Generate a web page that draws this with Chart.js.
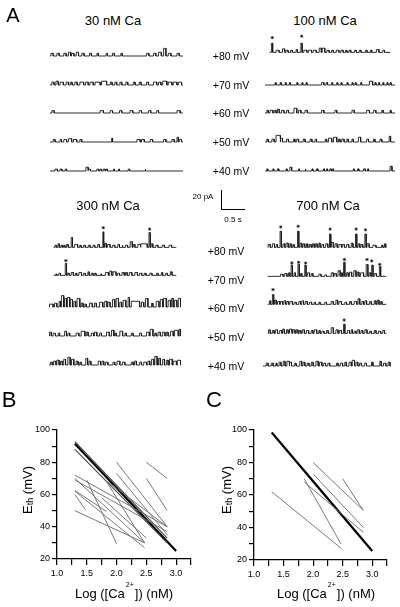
<!DOCTYPE html>
<html><head><meta charset="utf-8">
<script src="https://cdn.jsdelivr.net/npm/chart.js@4"></script>
<style>
html,body{margin:0;padding:0;background:#fff;}
#fig{position:relative;width:400px;height:607px;overflow:hidden;font-family:"Liberation Sans",Arial,sans-serif;color:#000;}
canvas{position:absolute;}
.t{position:absolute;white-space:nowrap;line-height:1;transform:translate(-50%,-50%);}
</style></head>
<body><div id="fig"></div>
<script>
// ---------- DATA ----------
// Panel A: single-channel openings per trace, [start s, end s, amplitude pA] (amplitude defaults to trace level)
const ca30_80=[[0.02,0.07],[0.15,0.20],[0.30,0.35],[0.40,0.45,4],[0.47,0.52],[0.57,0.62,4],[0.69,0.74],[0.86,0.90],[1.02,1.05],[1.22,1.25],[1.36,1.40],[1.54,1.57],[2.10,2.15],[2.25,2.30],[2.36,2.42,4],[2.47,2.52,8],[2.57,2.63],[2.76,2.81]];
const ca30_70=[[0.04,0.09],[0.13,0.18,4],[0.22,0.29],[0.35,0.40],[0.44,0.48],[0.54,0.59],[0.65,0.73],[0.77,0.83],[0.87,0.94],[0.98,1.09],[1.12,1.23,4],[1.31,1.35],[1.41,1.45],[1.52,1.56],[1.65,1.69],[1.81,1.85],[1.94,1.98],[2.10,2.14],[2.25,2.32],[2.36,2.41],[2.45,2.54,4],[2.57,2.65],[2.68,2.76],[2.79,2.86]];
const ca30_60=[[0.04,0.09],[1.09,1.16],[1.31,1.36],[1.51,1.56],[1.74,1.80],[1.94,1.99],[2.14,2.19],[2.32,2.36],[2.76,2.83]];
const ca30_50=[[0.07,0.11],[0.22,0.25],[0.30,0.36],[0.40,0.47,3.5],[0.51,0.58],[0.65,0.69],[1.34,1.36,4],[1.89,1.96],[1.99,2.05],[2.18,2.23],[2.47,2.52],[2.65,2.70],[2.76,2.79,5],[2.81,2.86]];
const ca30_40=[[0.11,0.16],[0.22,0.26],[0.33,0.36],[0.78,0.83,4],[0.83,0.88],[1.02,1.06],[1.09,1.12],[1.16,1.20],[1.22,1.25],[1.38,1.40],[1.49,1.51],[1.70,1.73],[2.07,2.08]];
const ca100_80=[[0.04,0.07,13],[0.15,0.22],[0.30,0.35,5],[0.38,0.43],[0.49,0.53],[0.62,0.65,4],[0.73,0.76,13],[0.80,0.87],[0.91,0.98],[1.02,1.09],[1.16,1.21,6],[1.23,1.29,6],[1.34,1.39],[1.45,1.49],[1.56,1.62],[1.67,1.72],[1.78,1.81],[1.86,1.90],[1.99,2.03],[2.10,2.14],[2.25,2.28],[2.36,2.39],[2.50,2.56,4],[2.65,2.69]];
const ca100_70=[[0.22,0.24],[0.33,0.35],[0.44,0.46],[0.53,0.55],[0.69,0.71],[0.80,0.82],[0.89,0.91],[1.23,1.28],[1.33,1.36],[1.45,1.47],[1.56,1.58],[1.65,1.67],[1.78,1.80],[1.89,1.91],[1.96,1.98],[2.08,2.10],[2.27,2.34,4],[2.39,2.41],[2.47,2.49],[2.56,2.58],[2.65,2.67],[2.72,2.74]];
const ca100_60=[[0.04,0.07],[0.11,0.17],[0.20,0.24],[0.27,0.31,4],[0.36,0.41],[0.47,0.51],[0.63,0.69,5],[0.73,0.78],[0.87,0.92],[1.23,1.28],[1.52,1.56],[1.89,1.94],[2.21,2.27],[2.36,2.41],[2.54,2.57],[2.72,2.74]];
const ca100_50=[[0.04,0.07],[0.15,0.20],[0.24,0.33,7],[0.34,0.38,4],[0.47,0.51],[0.62,0.65],[0.69,0.73],[0.83,0.87],[0.98,1.02],[1.09,1.12],[1.31,1.34],[1.38,1.45,4],[1.49,1.56,5],[1.60,1.63],[1.67,1.72],[1.78,1.81],[1.89,1.92],[2.03,2.08,5],[2.21,2.25],[2.36,2.39],[2.50,2.54],[2.70,2.73,6]];
const ca100_40=[[0.04,0.06],[0.17,0.19],[0.27,0.30],[0.46,0.48],[0.54,0.58,4],[0.73,0.75],[0.87,0.89],[1.02,1.04],[1.12,1.15],[1.27,1.29],[1.34,1.36],[1.41,1.44],[1.47,1.49],[1.92,1.94],[2.01,2.04],[2.14,2.18],[2.23,2.25],[2.72,2.76,5]];
const ca300_80=[[0.03,0.06],[0.10,0.13,5],[0.17,0.20],[0.23,0.26],[0.30,0.34,4],[0.41,0.44,14],[0.49,0.56,4],[0.61,0.64],[0.70,0.74],[0.81,0.85],[0.92,0.96],[1.03,1.07,4],[1.15,1.17,22],[1.19,1.23,6],[1.26,1.32,4],[1.38,1.43],[1.50,1.54,4],[1.60,1.62],[1.68,1.73],[1.79,1.84,8],[1.86,1.90,4],[1.97,2.03,4],[2.04,2.19,5],[2.23,2.26,21],[2.28,2.32,5],[2.39,2.44],[2.54,2.59],[2.70,2.76]];
const ca300_70=[[0.05,0.07,2],[0.12,0.16],[0.27,0.30,17],[0.32,0.36],[0.41,0.46,4],[0.51,0.54],[0.59,0.65,4],[0.70,0.74],[0.80,0.83,5],[0.88,0.92],[0.96,0.99],[1.10,1.12,2],[1.21,1.28,4],[1.31,1.36,6],[1.39,1.46,5],[1.50,1.54],[1.60,1.65,4],[1.68,1.72,4],[1.77,1.83,4],[1.90,1.96,4],[2.01,2.06],[2.12,2.16],[2.25,2.30],[2.41,2.44],[2.52,2.55,4],[2.62,2.66],[2.73,2.77,5]];
const ca300_60=[[0.01,0.09,3],[0.12,0.17,4],[0.22,0.25,6],[0.27,0.32,12],[0.34,0.38,9],[0.40,0.45,10],[0.46,0.51,8],[0.54,0.58,6],[0.61,0.67,9],[0.70,0.74,4],[0.78,0.81,3],[0.88,0.94,4],[0.99,1.03,4],[1.10,1.17,5],[1.21,1.26,6],[1.28,1.33,5],[1.38,1.43,8],[1.46,1.51,9],[1.54,1.58,5],[1.61,1.67,7],[1.72,1.75,10],[1.79,1.97,6],[2.01,2.06,5],[2.10,2.15,9],[2.23,2.26,4],[2.33,2.39,6],[2.42,2.47,8],[2.49,2.55,9],[2.59,2.64,7],[2.66,2.70,9],[2.73,2.78,7],[2.81,2.86,9]];
const ca300_50=[[0.01,0.05,4],[0.09,0.14],[0.20,0.23],[0.34,0.38,5],[0.41,0.45],[0.59,0.65],[0.70,0.78,5],[0.81,0.85,4],[0.92,0.97],[0.99,1.04,4],[1.10,1.14],[1.25,1.31,4],[1.36,1.41,6],[1.43,1.46],[1.54,1.60,5],[1.65,1.68],[1.79,1.83],[1.97,2.01],[2.12,2.18,4],[2.20,2.26,7],[2.30,2.33],[2.37,2.42,4],[2.47,2.52,4],[2.55,2.59,4],[2.64,2.70,5],[2.73,2.81,6],[2.83,2.86,7]];
const ca300_40=[[0.03,0.07,3],[0.10,0.15,4],[0.17,0.22,5],[0.25,0.29,4],[0.32,0.36,6],[0.41,0.46,8],[0.49,0.54,6],[0.59,0.63,4],[0.67,0.70,3],[0.80,0.84,7],[0.87,0.91,4],[1.07,1.12,4],[1.15,1.19,4],[1.23,1.28,3],[1.39,1.43,3],[1.48,1.54,4],[1.60,1.65,3],[1.79,1.83,3],[1.86,1.90,4],[1.97,2.01,3],[2.06,2.12,3],[2.15,2.19,4],[2.23,2.28,6],[2.30,2.35,9],[2.38,2.42,7],[2.47,2.51,6],[2.55,2.59,5],[2.62,2.68,6],[2.70,2.77,4],[2.79,2.86,5]];
const ca700_80=[[0.01,0.06,4],[0.11,0.16,5],[0.20,0.23,4],[0.29,0.32,23],[0.36,0.40,5],[0.43,0.48,6],[0.52,0.55,5],[0.59,0.62,4],[0.70,0.73,23],[0.76,0.80,6],[0.83,0.87,5],[0.91,0.94,5],[0.98,1.02,4],[1.05,1.09,5],[1.12,1.16,5],[1.20,1.23,6],[1.27,1.31,4],[1.36,1.41,5],[1.45,1.48,19],[1.49,1.54,7],[1.58,1.63,5],[1.67,1.73,4],[1.75,1.80,4],[1.85,1.90,4],[1.96,2.00,6],[2.06,2.09,19],[2.12,2.16,5],[2.19,2.23,4],[2.28,2.31,19],[2.33,2.38,5],[2.47,2.54,3],[2.67,2.70,3],[2.74,2.77,5]];
const ca700_70=[[0.30,0.36,3],[0.40,0.45,4],[0.49,0.52,5],[0.55,0.58,16],[0.62,0.65,5],[0.71,0.74,17],[0.77,0.80,4],[0.87,0.90,16],[0.93,0.98,5],[1.02,1.06,4],[1.20,1.25,3],[1.34,1.38,2],[1.49,1.54,5],[1.56,1.61,4],[1.65,1.70,8],[1.73,1.75,5],[1.78,1.81,20],[1.85,1.89,5],[1.92,1.97,6],[2.02,2.07,8],[2.10,2.14,6],[2.18,2.25,5],[2.31,2.35,17],[2.38,2.42,5],[2.44,2.47,16],[2.50,2.55,4],[2.62,2.65,14]];
const ca700_60=[[0.04,0.07,5],[0.11,0.14,14],[0.16,0.20,6],[0.23,0.28,4],[0.30,0.35,4],[0.38,0.42,5],[0.45,0.49,4],[0.52,0.58,4],[0.62,0.67,3],[0.73,0.77,4],[0.80,0.84,5],[0.88,0.93,4],[0.98,1.03,3],[1.09,1.12,3],[1.20,1.23,3],[1.34,1.38,3],[1.49,1.54,4],[1.60,1.64,6],[1.67,1.73,4],[1.81,1.85,3],[1.92,1.96,4],[2.03,2.09,4],[2.12,2.16,8],[2.21,2.25,4],[2.28,2.32,5],[2.39,2.43,4],[2.50,2.54,5],[2.57,2.61,6],[2.65,2.68,4]];
const ca700_50=[[0.02,0.06,5],[0.11,0.15,4],[0.18,0.23,5],[0.28,0.33,4],[0.35,0.39,6],[0.44,0.48,5],[0.51,0.57,6],[0.59,0.64,5],[0.67,0.71,5],[0.74,0.78,4],[0.81,0.86,5],[0.91,0.96,4],[1.02,1.06,4],[1.09,1.15,5],[1.20,1.23,4],[1.27,1.32,3],[1.38,1.42,4],[1.49,1.54,8],[1.60,1.65,5],[1.68,1.73,4],[1.78,1.81,13],[1.87,1.92,4],[1.96,1.99,5],[2.03,2.07,3],[2.10,2.15,5],[2.19,2.23,4],[2.28,2.33,5],[2.39,2.43,3],[2.50,2.54,4],[2.60,2.65,3],[2.70,2.74,4]];
const ca700_40=[[0.07,0.11,3],[0.18,0.22,3],[0.28,0.30,3],[0.35,0.39,4],[0.44,0.48,5],[0.52,0.57,5],[0.58,0.62,4],[0.69,0.72,3],[0.80,0.84,5],[0.87,0.91,4],[0.96,1.00,3],[1.05,1.09,4],[1.15,1.20,5],[1.23,1.28,4],[1.32,1.36,3],[1.41,1.45,3],[1.60,1.63,3],[1.68,1.73,3],[1.78,1.81,4],[1.87,1.92,4],[1.94,1.99,6],[2.02,2.06,4],[2.10,2.14,3],[2.21,2.25,3],[2.36,2.39,4],[2.54,2.57,5],[2.62,2.67,3],[2.72,2.76,4]];
// default open level (pA) of each trace, +80..+40 mV
const level30=[2.8,3,2.5,2.6,2];
const level100=[3,2.5,2.8,3,2.2];
const level300=[3,3,3,3,3];
const level700=[4,4,4,4,4];
// asterisks over the large events [time s, pA]
const star100_80=[[0.06,21],[0.75,23]];
const star300_80=[[1.16,28],[2.245,26]];
const star300_70=[[0.285,21]];
const star700_80=[[0.305,29],[0.715,30],[1.465,26],[2.075,26],[2.295,25]];
const star700_70=[[0.565,19],[0.725,20],[0.89,19],[1.80,24],[2.33,24],[2.44,22],[2.63,17]];
const star700_60=[[0.125,21]];
const star700_50=[[1.795,19]];
const voltages=['+80 mV','+70 mV','+60 mV','+50 mV','+40 mV'];
const concTitles=['30 nM Ca','100 nM Ca','300 nM Ca','700 nM Ca'];

// Panel B / C: fitted threshold lines [logCa1, Eth1, logCa2, Eth2]
const bThinLines=[[1.3,72,2.85,40],[1.3,70,2.47,30],[1.3,69,2.85,37],[1.3,62.5,1.83,49.5],[1.3,62,2.47,27],[1.3,60,1.48,50.5],[1.3,50,2.47,30],[1.5,69,2.0,29.5],[1.85,67,2.47,30],[1.75,58,2.5,33],[1.85,68,2.85,40],[2.0,80,2.85,40],[2.0,73,2.85,35],[2.5,80,2.85,70],[2.5,70,2.85,50]];
const bDarkLines=[[1.3,92.8,2.85,33],[1.3,88,2.85,30]];
const bThickLines=[[1.3,91.5,3.0,25]];
const cThinLines=[[1.3,62,2.48,27],[1.85,70,2.47,30],[1.85,68,2.85,37],[2.0,80,2.85,50.5],[2.0,73,2.85,40],[2.5,70,2.85,50.5]];
const cThickLines=[[1.3,98.5,3.0,25.5]];
const xTickLabels=['1.0','1.5','2.0','2.5','3.0'];
const yTickLabels=[20,40,60,80,100];

// ---------- LAYOUT ----------
Chart.defaults.font.family='"Liberation Sans", Arial, sans-serif';
Chart.defaults.color='#000';
const fig=document.getElementById('fig');
function txt(html,cx,cy,size,extra){const d=document.createElement('div');d.className='t';d.innerHTML=html;d.style.left=cx+'px';d.style.top=cy+'px';d.style.fontSize=size+'px';if(extra)d.style.cssText+=extra;fig.appendChild(d);return d;}
function cnv(l,t,w,h){const c=document.createElement('canvas');c.width=w;c.height=h;c.style.left=l+'px';c.style.top=t+'px';c.style.width=w+'px';c.style.height=h+'px';fig.appendChild(c);return c;}

const SEC_PX=46, PA_PX=0.95, ABOVE=32, BELOW=4;
function tracePoints(ev,lvl,T){const p=[{x:0,y:0}];for(const e of ev){const a=e.length>2?e[2]:lvl;p.push({x:e[0],y:0},{x:e[0],y:a},{x:e[1],y:a},{x:e[1],y:0});}p.push({x:T,y:0});return p;}
function traceChart(ev,lvl,stars,left,width,base){
  const T=width/SEC_PX;
  const c=cnv(left,base-ABOVE,width,ABOVE+BELOW);
  const ds=[{data:tracePoints(ev,lvl,T),borderColor:'#1a1a1a',borderWidth:0.9,pointRadius:0,tension:0,clip:false}];
  if(stars)ds.push({data:stars.map(s=>({x:s[0],y:s[1]})),showLine:false,pointStyle:'star',pointRadius:1.6,borderColor:'#000',borderWidth:0.7,clip:false});
  new Chart(c,{type:'line',data:{datasets:ds},options:{animation:false,responsive:false,devicePixelRatio:1,events:[],layout:{padding:0},
    plugins:{legend:{display:false},tooltip:{enabled:false}},
    scales:{x:{type:'linear',display:false,min:0,max:T},y:{type:'linear',display:false,min:-BELOW/PA_PX,max:ABOVE/PA_PX}}}});
}
const groups=[
  {title:concTitles[0],tx:113,ty:20,left:50,width:133,bases:[56,85,113,142,171],traces:[ca30_80,ca30_70,ca30_60,ca30_50,ca30_40],lv:level30,stars:[]},
  {title:concTitles[1],tx:325,ty:20,left:265,width:130,bases:[56,85,113,142,171],traces:[ca100_80,ca100_70,ca100_60,ca100_50,ca100_40],lv:level100,stars:[star100_80]},
  {title:concTitles[2],tx:108,ty:205,left:49,width:132,bases:[251,279,307,336,365],traces:[ca300_80,ca300_70,ca300_60,ca300_50,ca300_40],lv:level300,stars:[star300_80,star300_70]},
  {title:concTitles[3],tx:328,ty:205,left:263,width:128,bases:[251,280,308,337,366],traces:[ca700_80,ca700_70,ca700_60,ca700_50,ca700_40],lv:level700,stars:[star700_80,star700_70,star700_60,star700_50]},
];
groups.forEach(g=>{txt(g.title,g.tx,g.ty,13);g.traces.forEach((tr,i)=>traceChart(tr,g.lv[i],g.stars[i],g.left,g.width,g.bases[i]));});
voltages.forEach((v,i)=>{txt(v,231,groups[0].bases[i],10.5);txt(v,226,groups[3].bases[i],10.5);});
txt('A',13,15,20);
// scale bar
const sb=document.createElement('div');sb.style.cssText='position:absolute;left:221px;top:190px;width:23px;height:19px;border-left:1.2px solid #000;border-bottom:1.2px solid #000;';fig.appendChild(sb);
txt('20 pA',203,197,8);txt('0.5 s',233,220,8);

// ---------- Panels B & C ----------
function seg(arr,color,w){return arr.map(l=>({data:[{x:l[0],y:l[1]},{x:l[2],y:l[3]}],borderColor:color,borderWidth:w,pointRadius:0,tension:0,fill:false}));}
function eChart(left,sets,yW,xH,padR){
  const c=cnv(left,400,200,207);
  new Chart(c,{type:'line',data:{datasets:sets},options:{animation:false,responsive:false,devicePixelRatio:1,events:[],
    layout:{padding:{top:30,right:padR,left:0,bottom:0}},
    plugins:{legend:{display:false},tooltip:{enabled:false}},
    scales:{
      x:{type:'linear',min:1,max:3.25,afterFit(s){s.height=xH;},border:{color:'#000',width:1.3},
         grid:{drawOnChartArea:false,color:'#000',lineWidth:1.2,tickLength:6},
         ticks:{stepSize:0.25,autoSkip:false,maxRotation:0,padding:3,font:{size:9},
           callback:v=>{const s=v.toFixed(1);return (Math.abs(v*2-Math.round(v*2))<1e-6&&xTickLabels.includes(s))?s:'';}}},
      y:{type:'linear',min:20,max:100,afterFit(s){s.width=yW;},border:{color:'#000',width:1.3},
         grid:{drawOnChartArea:false,color:'#000',lineWidth:1.2,tickLength:5},
         ticks:{stepSize:10,autoSkip:false,padding:2,font:{size:9},callback:v=>yTickLabels.includes(v)?String(v):''}}
    }}});
}
eChart(0,[...seg(bThinLines,'#6a6a6a',0.9),...seg(bDarkLines,'#444',1.1),...seg(bThickLines,'#000',2.2)],57,48,9);
eChart(200,[...seg(cThinLines,'#6a6a6a',0.9),...seg(cThickLines,'#000',2.2)],54,47,13);
txt('B',9,400,22);txt('C',214,400,22);
const yTitle='E<span style="font-size:9px;position:relative;top:1px">th</span> (mV)';
txt(yTitle,27,490,13,'transform:translate(-50%,-50%) rotate(-90deg);');
txt(yTitle,226,490,13,'transform:translate(-50%,-50%) rotate(-90deg);');
const xTitle='Log ([Ca<span style="font-size:7px;position:relative;top:-11px;margin:0 1px">2+</span>]) (nM)';
txt(xTitle,124,593,13);txt(xTitle,326,593,13);
</script></body></html>
